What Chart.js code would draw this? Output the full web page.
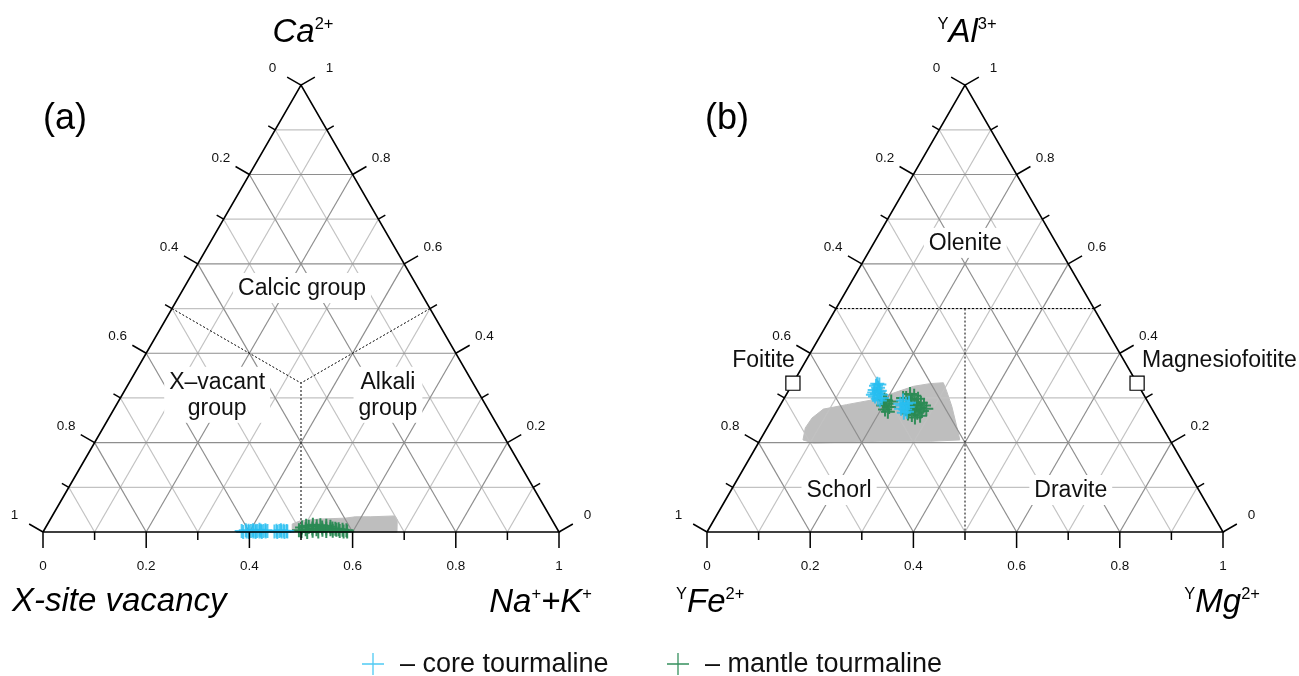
<!DOCTYPE html>
<html>
<head>
<meta charset="utf-8">
<script src="https://cdn.jsdelivr.net/npm/chart.js@4.4.0/dist/chart.umd.min.js"></script>
<style>
  html, body { margin: 0; padding: 0; background: #fff; }
  #wrap { position: relative; width: 1299px; height: 676px; }
  canvas { display: block; }
</style>
</head>
<body>
<div id="wrap"><canvas id="tern" width="1299" height="676"></canvas></div>
<script>
// ---------------- data ----------------
const tickValues = [0, 0.2, 0.4, 0.6, 0.8, 1];
const tickLabels = ['0', '0.2', '0.4', '0.6', '0.8', '1'];

// Panel (a): Ca (top) – X-site vacancy (left) – Na+K (right); vacancy = 1 − Ca − (Na+K)
const coreNaK_a = [0.384, 0.388, 0.391, 0.394, 0.397, 0.399, 0.402, 0.405, 0.407, 0.410,
                   0.412, 0.414, 0.417, 0.419, 0.421, 0.424, 0.426, 0.429, 0.431, 0.434,
                   0.448, 0.451, 0.454, 0.457, 0.459, 0.462, 0.465, 0.468, 0.471, 0.473];
const coreCa_a  = [0.002, 0.000, 0.004, 0.001, 0.003, 0.000, 0.002, 0.004, 0.001, 0.003,
                   0.000, 0.002, 0.005, 0.001, 0.003, 0.000, 0.002, 0.004, 0.001, 0.002,
                   0.001, 0.003, 0.000, 0.002, 0.004, 0.001, 0.003, 0.000, 0.002, 0.001];
const mantleNaK_a = [0.494, 0.497, 0.500, 0.503, 0.506, 0.509, 0.512, 0.515, 0.518, 0.521,
                     0.524, 0.527, 0.530, 0.533, 0.536, 0.539, 0.542, 0.545, 0.548, 0.551,
                     0.554, 0.557, 0.560, 0.563, 0.566, 0.570, 0.574, 0.578, 0.582, 0.586, 0.589];
const mantleCa_a  = [0.004, 0.010, 0.002, 0.014, 0.006, 0.012, 0.000, 0.016, 0.008, 0.003,
                     0.013, 0.006, 0.015, 0.001, 0.010, 0.005, 0.014, 0.008, 0.002, 0.012,
                     0.006, 0.008, 0.003, 0.007, 0.005, 0.006, 0.002, 0.005, 0.001, 0.004, 0.001];
// outline of the published-data field
const fieldNaK_a = [0.483, 0.474, 0.486, 0.522, 0.570, 0.588, 0.617, 0.664, 0.673, 0.686, 0.483];
const fieldCa_a  = [0.000, 0.018, 0.025, 0.029, 0.031, 0.034, 0.034, 0.036, 0.027, 0.000, 0.000];

// Panel (b): YAl (top) – YFe (left) – YMg (right); Fe = 1 − Al − Mg
const coreMg_b = [0.164, 0.170, 0.166, 0.177, 0.168, 0.175, 0.184, 0.174, 0.182, 0.188,
                  0.164, 0.176, 0.189, 0.168, 0.169,
                  0.233, 0.242, 0.237, 0.249, 0.247, 0.238, 0.253, 0.248, 0.247, 0.231];
const coreAl_b = [0.332, 0.323, 0.318, 0.316, 0.312, 0.309, 0.307, 0.303, 0.298, 0.294,
                  0.327, 0.314, 0.300, 0.307, 0.330,
                  0.294, 0.287, 0.283, 0.280, 0.274, 0.276, 0.269, 0.267, 0.289, 0.287];
const mantleMg_b = [0.195, 0.205, 0.200, 0.213, 0.208, 0.216, 0.200, 0.211,
                    0.239, 0.249, 0.236, 0.260, 0.249, 0.270, 0.262, 0.279, 0.254, 0.272,
                    0.264, 0.281, 0.274, 0.266, 0.283, 0.275, 0.257, 0.230, 0.287, 0.255];
const mantleAl_b = [0.296, 0.287, 0.283, 0.280, 0.274, 0.269, 0.294, 0.292,
                    0.309, 0.305, 0.300, 0.298, 0.296, 0.289, 0.287, 0.283, 0.283, 0.278,
                    0.274, 0.271, 0.267, 0.262, 0.260, 0.256, 0.265, 0.300, 0.276, 0.274];
const fieldMg_b = [0.083, 0.074, 0.076, 0.088, 0.128, 0.174, 0.206, 0.237, 0.266, 0.291,
                   0.307, 0.334, 0.366, 0.387, 0.331, 0.234, 0.107, 0.083];
const fieldAl_b = [0.206, 0.233, 0.255, 0.275, 0.285, 0.296, 0.311, 0.326, 0.332, 0.334,
                   0.315, 0.281, 0.236, 0.206, 0.203, 0.203, 0.199, 0.206];
// end-member compositions
const endNames = ['Foitite', 'Magnesiofoitite'];
const endMg_b  = [0.000, 0.667];
const endAl_b  = [0.333, 0.333];

// ---------------- geometry helpers ----------------
const R3 = Math.sqrt(3) / 2;
const SHIFT_A = 0;
const SHIFT_B = 664 / 516;           // second triangle sits to the right of the first
const FONT = "'Liberation Sans', Arial, Helvetica, sans-serif";

// ternary (top, right) -> cartesian in triangle units (side = 1)
function pt(top, right, shift) {
  return { x: shift + right + top / 2, y: top * R3 };
}
function series(tops, rights, shift) {
  return tops.map((t, i) => pt(t, rights[i], shift));
}

const COLORS = {
  core: 'rgba(40, 190, 240, 0.82)',
  mantle: 'rgba(42, 138, 84, 0.95)',
  field: '#bebebe',
  gridMajor: '#8e8e8e',
  gridMinor: '#c2c2c2'
};

const datasets = [];
function segment(a, b, color, width, dash, order) {
  datasets.push({
    data: [a, b], showLine: true, borderColor: color, borderWidth: width,
    borderDash: dash || [], pointRadius: 0, fill: false, order: order
  });
}

// grid, outline and field boundaries for both triangles
for (const s of [SHIFT_A, SHIFT_B]) {
  for (let k = 1; k < 10; k++) {
    const v = k / 10;
    const col = k % 2 === 0 ? COLORS.gridMajor : COLORS.gridMinor;
    const ord = k % 2 === 0 ? 39 : 40;
    segment(pt(v, 0, s), pt(v, 1 - v, s), col, 1.2, null, ord);       // constant top
    segment(pt(0, v, s), pt(1 - v, v, s), col, 1.2, null, ord);       // constant right
    segment(pt(0, 1 - v, s), pt(1 - v, 0, s), col, 1.2, null, ord);   // constant left
  }
  datasets.push({
    data: [pt(0, 0, s), pt(0, 1, s), pt(1, 0, s), pt(0, 0, s)],
    showLine: true, borderColor: '#000', borderWidth: 1.6, pointRadius: 0,
    fill: false, order: 10
  });
}
// (a) group boundaries: Ca-rich / vacant / alkali
const cen = pt(1 / 3, 1 / 3, SHIFT_A);
segment(pt(0.5, 0, SHIFT_A), cen, '#000', 1, [2, 2], 30);
segment(pt(0.5, 0.5, SHIFT_A), cen, '#000', 1, [2, 2], 30);
segment(pt(0, 0.5, SHIFT_A), cen, '#000', 1, [2, 2], 30);
// (b) schorl / dravite / olenite boundaries
segment(pt(0.5, 0, SHIFT_B), pt(0.5, 0.5, SHIFT_B), '#000', 1, [2, 2], 30);
segment(pt(0.5, 0.25, SHIFT_B), pt(0, 0.5, SHIFT_B), '#000', 1, [2, 2], 30);

// published-data fields
datasets.push({
  data: series(fieldCa_a, fieldNaK_a, SHIFT_A), showLine: true, fill: 'shape',
  backgroundColor: COLORS.field, borderColor: COLORS.field, borderWidth: 1,
  pointRadius: 0, order: 50
});
datasets.push({
  data: series(fieldAl_b, fieldMg_b, SHIFT_B), showLine: true, fill: 'shape',
  backgroundColor: COLORS.field, borderColor: COLORS.field, borderWidth: 1,
  pointRadius: 0, order: 50
});

// analyses
const markerStyle = { pointStyle: 'cross', pointRadius: 7, pointBorderWidth: 2, showLine: false };
datasets.push(Object.assign({ label: 'mantle tourmaline',
  data: series(mantleCa_a, mantleNaK_a, SHIFT_A).concat(series(mantleAl_b, mantleMg_b, SHIFT_B)),
  borderColor: COLORS.mantle, backgroundColor: COLORS.mantle, order: 20 }, markerStyle));
datasets.push(Object.assign({ label: 'core tourmaline',
  data: series(coreCa_a, coreNaK_a, SHIFT_A).concat(series(coreAl_b, coreMg_b, SHIFT_B)),
  borderColor: COLORS.core, backgroundColor: COLORS.core, order: 19 }, markerStyle));

// end members
datasets.push({
  data: series(endAl_b, endMg_b, SHIFT_B), pointStyle: 'rect', pointRadius: 10,
  pointBackgroundColor: '#fff', pointBorderColor: '#000', pointBorderWidth: 1.2,
  showLine: false, order: 5
});

// ---------------- text and axes ----------------
function drawRich(ctx, parts, x, y, align) {
  let w = 0;
  parts.forEach(p => { ctx.font = p.font; p.w = ctx.measureText(p.t).width; w += p.w; });
  let cx = align === 'center' ? x - w / 2 : align === 'right' ? x - w : x;
  ctx.textAlign = 'left';
  ctx.textBaseline = 'alphabetic';
  parts.forEach(p => { ctx.font = p.font; ctx.fillText(p.t, cx, y + (p.dy || 0)); cx += p.w; });
}

function boxedLabel(ctx, lines, cx, cy) {
  const gap = 26;
  ctx.font = `23px ${FONT}`;
  const w = Math.max(...lines.map(l => ctx.measureText(l).width));
  const h = lines.length * gap;
  ctx.fillStyle = '#fff';
  ctx.fillRect(cx - w / 2 - 5, cy - h / 2 - 2, w + 10, h + 4);
  ctx.fillStyle = '#111';
  ctx.textAlign = 'center';
  ctx.textBaseline = 'middle';
  lines.forEach((l, i) => ctx.fillText(l, cx, cy - h / 2 + gap * (i + 0.5) + 1));
}

const big = `italic 33px ${FONT}`;
const sup = `16.5px ${FONT}`;

const ternaryDecor = {
  id: 'ternaryDecor',
  afterDatasetsDraw(chart) {
    const ctx = chart.ctx;
    const xs = chart.scales.x, ys = chart.scales.y;
    const px = p => ({ x: xs.getPixelForValue(p.x), y: ys.getPixelForValue(p.y) });

    ctx.save();
    // ticks and tick labels
    for (const s of [SHIFT_A, SHIFT_B]) {
      ctx.strokeStyle = '#000';
      ctx.lineWidth = 1.5;
      for (let k = 0; k <= 10; k++) {
        const v = k / 10;
        const len = k % 2 === 0 ? 16 : 8;
        const b = px(pt(0, v, s));
        const l = px(pt(1 - v, 0, s));
        const r = px(pt(v, 1 - v, s));
        ctx.beginPath();
        ctx.moveTo(b.x, b.y); ctx.lineTo(b.x, b.y + len);
        ctx.moveTo(l.x, l.y); ctx.lineTo(l.x - 0.866 * len, l.y - 0.5 * len);
        ctx.moveTo(r.x, r.y); ctx.lineTo(r.x + 0.866 * len, r.y - 0.5 * len);
        ctx.stroke();
      }
      ctx.fillStyle = '#111';
      ctx.font = `13.5px ${FONT}`;
      ctx.textAlign = 'center';
      ctx.textBaseline = 'middle';
      tickValues.forEach((v, i) => {
        const b = px(pt(0, v, s));
        const l = px(pt(1 - v, 0, s));
        const r = px(pt(v, 1 - v, s));
        ctx.fillText(tickLabels[i], b.x, b.y + 34);
        ctx.fillText(tickLabels[i], l.x - 0.866 * 33, l.y - 0.5 * 33);
        ctx.fillText(tickLabels[i], r.x + 0.866 * 33, r.y - 0.5 * 33);
      });
    }

    // corner titles
    ctx.fillStyle = '#000';
    const topA = px(pt(1, 0, SHIFT_A)), blA = px(pt(0, 0, SHIFT_A)), brA = px(pt(0, 1, SHIFT_A));
    const topB = px(pt(1, 0, SHIFT_B)), blB = px(pt(0, 0, SHIFT_B)), brB = px(pt(0, 1, SHIFT_B));
    drawRich(ctx, [{ t: 'Ca', font: big }, { t: '2+', font: sup, dy: -13 }], topA.x + 2, 42, 'center');
    drawRich(ctx, [{ t: 'X-site vacancy', font: big }], blA.x - 31, 611, 'left');
    drawRich(ctx, [{ t: 'Na', font: big }, { t: '+', font: sup, dy: -13 },
                   { t: '+K', font: big }, { t: '+', font: sup, dy: -13 }], brA.x + 33, 612, 'right');
    drawRich(ctx, [{ t: 'Y', font: sup, dy: -13 }, { t: 'Al', font: big }, { t: '3+', font: sup, dy: -13 }],
             topB.x + 2, 42, 'center');
    drawRich(ctx, [{ t: 'Y', font: sup, dy: -13 }, { t: 'Fe', font: big }, { t: '2+', font: sup, dy: -13 }],
             blB.x - 31, 612, 'left');
    drawRich(ctx, [{ t: 'Y', font: sup, dy: -13 }, { t: 'Mg', font: big }, { t: '2+', font: sup, dy: -13 }],
             brB.x + 37, 612, 'right');

    // panel letters
    ctx.font = `36px ${FONT}`;
    ctx.textAlign = 'left';
    ctx.textBaseline = 'alphabetic';
    ctx.fillText('(a)', blA.x, 129);
    ctx.fillText('(b)', blB.x - 2, 129);

    // field names
    let p = px(pt(0.546, 0.229, SHIFT_A)); boxedLabel(ctx, ['Calcic group'], p.x, p.y);
    p = px(pt(0.307, 0.184, SHIFT_A)); boxedLabel(ctx, ['X\u2013vacant', 'group'], p.x, p.y);
    p = px(pt(0.307, 0.515, SHIFT_A)); boxedLabel(ctx, ['Alkali', 'group'], p.x, p.y);
    p = px(pt(0.647, 0.177, SHIFT_B)); boxedLabel(ctx, ['Olenite'], p.x, p.y);
    p = px(pt(0.094, 0.209, SHIFT_B)); boxedLabel(ctx, ['Schorl'], p.x, p.y);
    p = px(pt(0.094, 0.658, SHIFT_B)); boxedLabel(ctx, ['Dravite'], p.x, p.y);

    // end-member names beside their squares
    ctx.font = `23px ${FONT}`;
    ctx.fillStyle = '#111';
    ctx.textBaseline = 'middle';
    const e0 = px(pt(endAl_b[0], endMg_b[0], SHIFT_B));
    const e1 = px(pt(endAl_b[1], endMg_b[1], SHIFT_B));
    ctx.textAlign = 'right'; ctx.fillText(endNames[0], e0.x + 2, e0.y - 23);
    ctx.textAlign = 'left'; ctx.fillText(endNames[1], e1.x + 5, e1.y - 23);

    // legend
    const legendItems = [
      { color: COLORS.core, text: '\u2013 core tourmaline', x: 373 },
      { color: COLORS.mantle, text: '\u2013 mantle tourmaline', x: 678 }
    ];
    ctx.font = `27px ${FONT}`;
    ctx.textAlign = 'left';
    ctx.textBaseline = 'middle';
    legendItems.forEach(it => {
      ctx.strokeStyle = it.color;
      ctx.lineWidth = 1.3;
      ctx.beginPath();
      ctx.moveTo(it.x - 11, 664); ctx.lineTo(it.x + 11, 664);
      ctx.moveTo(it.x, 653); ctx.lineTo(it.x, 675);
      ctx.stroke();
      ctx.fillStyle = '#111';
      ctx.fillText(it.text, it.x + 27, 665);
    });
    ctx.restore();
  }
};

new Chart(document.getElementById('tern'), {
  type: 'scatter',
  data: { datasets },
  options: {
    responsive: false,
    devicePixelRatio: 1,
    animation: false,
    events: [],
    layout: { padding: 0, autoPadding: false },
    scales: {
      x: { type: 'linear', min: -43 / 516, max: (1299 - 43) / 516, display: false },
      y: { type: 'linear', min: (532 - 676) / 516, max: 532 / 516, display: false }
    },
    plugins: { legend: { display: false }, tooltip: { enabled: false } }
  },
  plugins: [ternaryDecor]
});
</script>
</body>
</html>
